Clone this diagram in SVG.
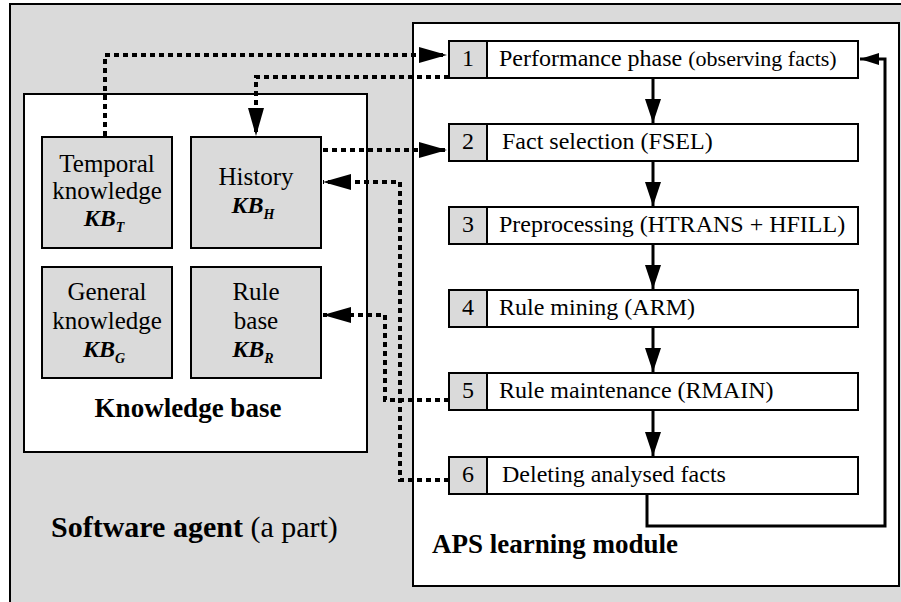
<svg xmlns="http://www.w3.org/2000/svg" width="901" height="602" viewBox="0 0 901 602">
<style>
text{font-family:"Liberation Serif","Times New Roman",serif;fill:#000}
.frame{stroke:#000;stroke-width:2}
.gray{fill:#dadada}
.white{fill:#fff}
.t24{font-size:24px}
.t25{font-size:25px}
.t22{font-size:22px}
.kb{font-size:24px;font-weight:bold;font-style:italic}
.sub{font-size:14px;font-weight:bold;font-style:italic}
.bold{font-weight:bold}
.dot{fill:none;stroke:#000;stroke-width:4;stroke-dasharray:5 4}
.solid{fill:none;stroke:#000;stroke-width:3}
</style>
<defs>
<marker id="ah" markerUnits="userSpaceOnUse" markerWidth="30" markerHeight="20" refX="28" refY="8" orient="auto">
<path d="M0,0 L28,8 L0,16 Z" fill="#000"/>
</marker>
<marker id="sh" markerUnits="userSpaceOnUse" markerWidth="26" markerHeight="20" refX="24" refY="8" orient="auto">
<path d="M0,0 L24,8 L0,16 Z" fill="#000"/>
</marker>
<marker id="fh" markerUnits="userSpaceOnUse" markerWidth="22" markerHeight="14" refX="19" refY="6" orient="auto">
<path d="M0,0 L19,6 L0,12 Z" fill="#000"/>
</marker>
</defs>

<g id="software-agent">
<rect x="10" y="4" width="900" height="610" class="frame gray"/>
<text x="51" y="537" font-size="30"><tspan class="bold">Software agent</tspan> (a part)</text>
</g>

<g id="knowledge-base">
<rect x="24" y="94" width="343" height="358" class="frame white"/>
<text x="188" y="417" font-size="27" class="bold" text-anchor="middle">Knowledge base</text>
</g>

<g id="kb-temporal">
<rect x="42" y="137" width="130" height="111" class="frame gray"/>
<text x="107" y="172" class="t25" text-anchor="middle">Temporal</text>
<text x="107" y="199" class="t25" text-anchor="middle">knowledge</text>
<text x="104" y="226" text-anchor="middle"><tspan class="kb">KB</tspan><tspan class="sub" dy="6">T</tspan></text>
</g>

<g id="kb-history">
<rect x="191" y="137" width="130" height="111" class="frame gray"/>
<text x="256" y="185" class="t25" text-anchor="middle">History</text>
<text x="253" y="213" text-anchor="middle"><tspan class="kb">KB</tspan><tspan class="sub" dy="6">H</tspan></text>
</g>

<g id="kb-general">
<rect x="42" y="267" width="130" height="111" class="frame gray"/>
<text x="107" y="300" class="t25" text-anchor="middle">General</text>
<text x="107" y="329" class="t25" text-anchor="middle">knowledge</text>
<text x="104" y="357" text-anchor="middle"><tspan class="kb">KB</tspan><tspan class="sub" dy="6">G</tspan></text>
</g>

<g id="kb-rules">
<rect x="191" y="267" width="130" height="111" class="frame gray"/>
<text x="256" y="300" class="t25" text-anchor="middle">Rule</text>
<text x="256" y="329" class="t25" text-anchor="middle">base</text>
<text x="253" y="357" text-anchor="middle"><tspan class="kb">KB</tspan><tspan class="sub" dy="6">R</tspan></text>
</g>

<g id="aps-module">
<rect x="413" y="23" width="486" height="563" class="frame white"/>
<text x="432" y="553" font-size="27" class="bold">APS learning module</text>
</g>

<g id="step1">
<rect x="449" y="41" width="409" height="37" class="frame white"/>
<rect x="449" y="41" width="38" height="37" class="frame gray"/>
<text x="468" y="66" class="t24" text-anchor="middle">1</text>
<text x="499" y="66" class="t24">Performance phase <tspan class="t22">(observing facts)</tspan></text>
</g>
<g id="step2">
<rect x="449" y="124" width="409" height="37" class="frame white"/>
<rect x="449" y="124" width="38" height="37" class="frame gray"/>
<text x="468" y="149" class="t24" text-anchor="middle">2</text>
<text x="502" y="149" class="t24">Fact selection (FSEL)</text>
</g>
<g id="step3">
<rect x="449" y="207" width="409" height="37" class="frame white"/>
<rect x="449" y="207" width="38" height="37" class="frame gray"/>
<text x="468" y="232" class="t24" text-anchor="middle">3</text>
<text x="499" y="232" class="t24">Preprocessing (HTRANS + HFILL)</text>
</g>
<g id="step4">
<rect x="449" y="290" width="409" height="37" class="frame white"/>
<rect x="449" y="290" width="38" height="37" class="frame gray"/>
<text x="468" y="315" class="t24" text-anchor="middle">4</text>
<text x="499" y="315" class="t24">Rule mining (ARM)</text>
</g>
<g id="step5">
<rect x="449" y="373" width="409" height="37" class="frame white"/>
<rect x="449" y="373" width="38" height="37" class="frame gray"/>
<text x="468" y="398" class="t24" text-anchor="middle">5</text>
<text x="499" y="398" class="t24">Rule maintenance (RMAIN)</text>
</g>
<g id="step6">
<rect x="449" y="457" width="409" height="37" class="frame white"/>
<rect x="449" y="457" width="38" height="37" class="frame gray"/>
<text x="468" y="482" class="t24" text-anchor="middle">6</text>
<text x="502" y="482" class="t24">Deleting analysed facts</text>
</g>

<g id="connectors">
<path class="dot" d="M105,136 V55 H447" marker-end="url(#ah)"/>
<path class="dot" d="M449,77 H256 V136" marker-end="url(#ah)"/>
<path class="dot" d="M323,150 H447" marker-end="url(#ah)"/>
<path class="dot" d="M449,400 H385 V315 H323" marker-end="url(#ah)"/>
<path class="dot" d="M449,480 H400 V182 H323" marker-end="url(#ah)"/>
<path class="solid" d="M653,78 V123" marker-end="url(#sh)"/>
<path class="solid" d="M653,161 V206" marker-end="url(#sh)"/>
<path class="solid" d="M653,244 V289" marker-end="url(#sh)"/>
<path class="solid" d="M653,327 V372" marker-end="url(#sh)"/>
<path class="solid" d="M653,410 V456" marker-end="url(#sh)"/>
<path class="solid" d="M647,494 V526 H885 V59 H860" marker-end="url(#fh)"/>
</g>
</svg>
